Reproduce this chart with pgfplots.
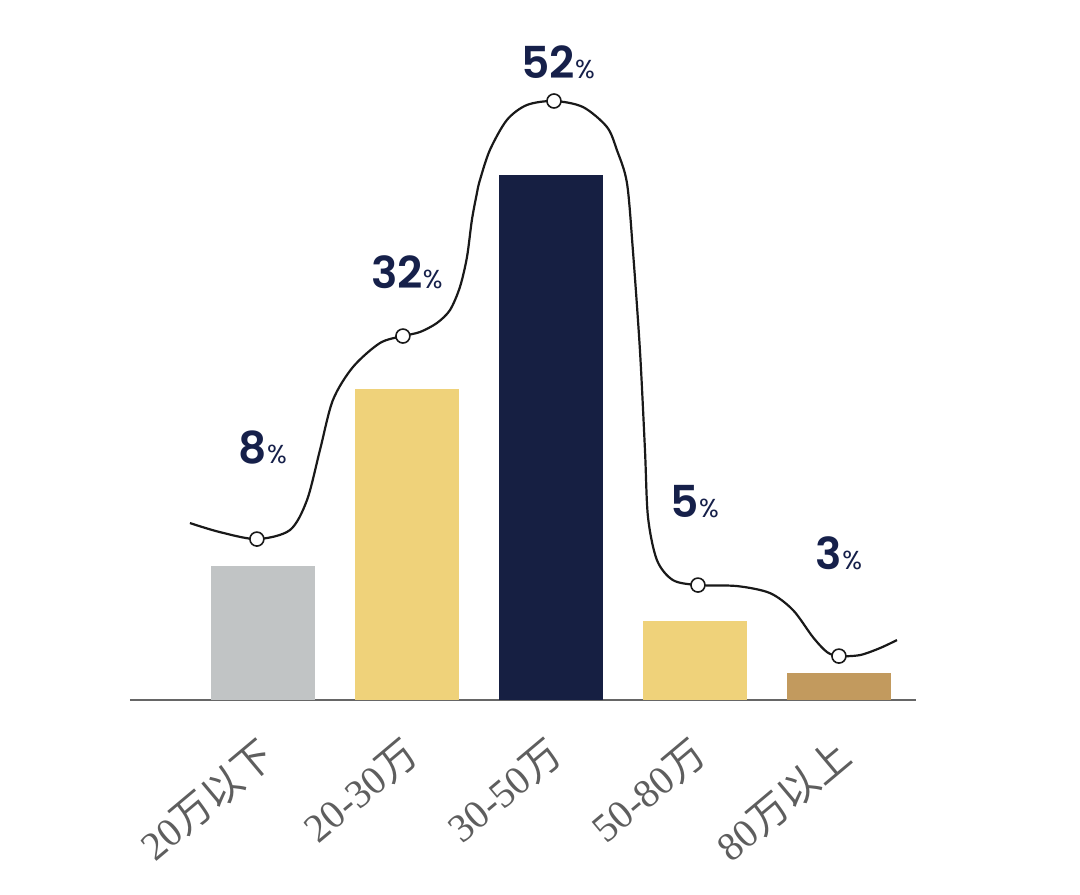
\documentclass[border=0pt]{standalone}
\usepackage{fontspec}
\setmainfont{Liberation Serif}
\newfontfamily\cjk{Noto Sans CJK SC}
\newfontfamily\pop{Poppins}
\newfontfamily\popsb{Poppins SemiBold}
\usepackage{pgfplots}
\pgfplotsset{compat=1.18}
\definecolor{cgray}{HTML}{C1C4C5}
\definecolor{cyel}{HTML}{EFD27A}
\definecolor{cnavy}{HTML}{161F42}
\definecolor{ctan}{HTML}{C29A5E}
\definecolor{ctxt}{HTML}{16204A}
\definecolor{clab}{HTML}{5E5E5E}
\newcommand\pct[1]{{\popsb\fontsize{22}{22}\selectfont #1}{\pop\fontsize{13}{13}\selectfont\%}}
\begin{document}
\begin{tikzpicture}
\begin{axis}[
  scale only axis, width=393pt, height=330pt,
  xmin=-0.924, xmax=4.535, ymin=0, ymax=660,
  axis x line=bottom, axis y line=none,
  x axis line style={-, draw=gray!80!black, line width=0.7pt},
  xtick={0,1,2,3,4}, major tick length=0pt, ytick=\empty,
  xticklabels={{20{\cjk 万以下}},{20-30{\cjk 万}},{30-50{\cjk 万}},{50-80{\cjk 万}},{80{\cjk 万以上}}},
  xticklabel style={rotate=40, anchor=north east, font=\fontsize{20}{20}\selectfont, text=clab, xshift=-10pt, yshift=-8pt},
  clip=false,
  ybar, bar width=0.722, bar shift=0pt,
]
\addplot[fill=cgray, draw=none] coordinates {(0,134)};
\addplot[fill=cyel, draw=none] coordinates {(1,311)};
\addplot[fill=cnavy, draw=none] coordinates {(2,525)};
\addplot[fill=cyel, draw=none] coordinates {(3,79)};
\addplot[fill=ctan, draw=none] coordinates {(4,27)};
\addplot[smooth, tension=0.5, draw=black!90, line width=1.1pt, mark=none] coordinates {
(-0.507,177) (-0.3,168) (-0.042,161) (0.1875,170) (0.306,200) (0.396,250) (0.486,300) (0.625,333) (0.8125,357) (0.972,364)
(1.090,368) (1.208,377) (1.299,390) (1.368,413) (1.417,443) (1.451,480) (1.486,507) (1.507,520) (1.576,550) (1.694,580) (1.833,595) (2.021,599)
(2.222,593) (2.389,573) (2.458,550) (2.528,517) (2.569,450) (2.618,350) (2.653,250) (2.674,183) (2.736,140) (2.847,120) (3.021,115)
(3.292,114) (3.521,107) (3.681,90) (3.819,63) (3.917,48) (4.0,44) (4.146,45) (4.285,52) (4.403,60)
};
\addplot[only marks, mark=*, mark size=3.5pt, mark options={fill=white, draw=black!90, line width=0.8pt}] coordinates {
(-0.042,161) (0.972,364) (2.021,599) (3.021,115) (4.0,44)
};
\node[text=ctxt] at (axis cs:0,253) {\pct{8}};
\node[text=ctxt] at (axis cs:1,428) {\pct{32}};
\node[text=ctxt] at (axis cs:2.05,638) {\pct{52}};
\node[text=ctxt] at (axis cs:3,198) {\pct{5}};
\node[text=ctxt] at (axis cs:4,147) {\pct{3}};
\path (axis cs:-1.826,-194) rectangle (axis cs:5.674,700);
\end{axis}
\end{tikzpicture}
\end{document}
